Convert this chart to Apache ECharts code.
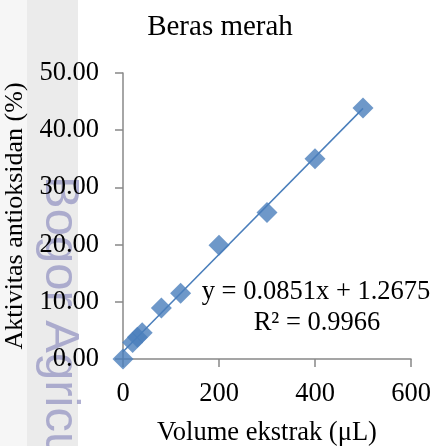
<!DOCTYPE html>
<html>
<head>
<meta charset="utf-8">
<script src="https://cdn.jsdelivr.net/npm/echarts@6/dist/echarts.min.js"></script>
<style>
html,body{margin:0;padding:0;background:#fff;}
#c{width:431px;height:446px;}
</style>
</head>
<body>
<div id="c"></div>
<script>
var titleText = "Beras merah";
var xAxisName = "Volume ekstrak (\u03bcL)";
var yAxisName = "Aktivitas antioksidan (%)";
var volumes = [0, 20, 30, 40, 80, 120, 200, 300, 400, 500];
var activity = [0, 2.9, 3.8, 4.6, 8.9, 11.5, 19.9, 25.6, 35.0, 43.9];
var trendX = [0, 500];
var trendY = [1.2675, 43.8175];
var equationLines = ["y = 0.0851x + 1.2675", "R\u00b2 = 0.9966"];
var watermark = "Bogor Agricultural University";

var serif = "'Liberation Serif','Times New Roman',serif";
var blue = "#4a7ebb";
var axisGray = "#888888";

var points = volumes.map(function(v, i){ return [v, activity[i]]; });
var trend = trendX.map(function(v, i){ return [v, trendY[i]]; });

var chart = echarts.init(document.getElementById('c'), null, {renderer:'canvas'});
chart.setOption({
  animation: false,
  backgroundColor: '#ffffff',
  title: {
    text: titleText, left: 215, top: 8, textAlign: 'center',
    textStyle: {fontFamily: serif, fontSize: 29, fontWeight: 'normal', color: '#000'}
  },
  grid: {left: 123, right: 20, top: 73, bottom: 87, containLabel: false, outerBoundsMode: 'none'},
  xAxis: {
    type: 'value', min: 0, max: 600, interval: 200,
    name: xAxisName, nameLocation: 'middle', nameGap: 61,
    nameTextStyle: {fontFamily: serif, fontSize: 26.5, color: '#000'},
    axisLine: {show: true, onZero: false, lineStyle: {color: axisGray, width: 1.5}},
    axisTick: {show: true, inside: false, length: 8, lineStyle: {color: axisGray, width: 1.5}},
    axisLabel: {fontFamily: serif, fontSize: 26.5, color: '#000', margin: 22},
    splitLine: {show: false}
  },
  yAxis: {
    type: 'value', min: 0, max: 50, interval: 10,
    name: yAxisName, nameLocation: 'middle', nameGap: 91,
    nameTextStyle: {fontFamily: serif, fontSize: 26, color: '#000'},
    axisLine: {show: true, onZero: false, lineStyle: {color: axisGray, width: 1.5}},
    axisTick: {show: true, inside: false, length: 8, lineStyle: {color: axisGray, width: 1.5}},
    axisLabel: {fontFamily: serif, fontSize: 26.5, color: '#000', margin: 24,
      formatter: function(v){ return v.toFixed(2); }},
    splitLine: {show: false}
  },
  graphic: [
    {type: 'rect', shape: {x: 0, y: 0, width: 27, height: 446}, style: {fill: '#f6f6f6'}, z: -10},
    {type: 'rect', shape: {x: 27, y: 0, width: 51, height: 446}, style: {fill: '#ebebeb'}, z: -10},
    {type: 'text', x: 60, y: 176, rotation: -Math.PI/2, z: -5,
      style: {text: watermark, fontFamily: "'Liberation Sans',Arial,sans-serif", fontSize: 49,
        fill: 'rgba(150,150,195,0.75)', textAlign: 'left', textVerticalAlign: 'middle'}},
    {type: 'text', x: 316, y: 292, z: 10,
      style: {text: equationLines[0], fontFamily: serif, fontSize: 26.5, fill: '#000',
        textAlign: 'center', textVerticalAlign: 'middle'}},
    {type: 'text', x: 317, y: 323, z: 10,
      style: {text: equationLines[1], fontFamily: serif, fontSize: 26.5, fill: '#000',
        textAlign: 'center', textVerticalAlign: 'middle'}}
  ],
  series: [
    {type: 'line', data: trend, showSymbol: false, symbol: 'none',
      lineStyle: {color: blue, width: 1.5}, z: 2, silent: true},
    {type: 'scatter', data: points, symbol: 'diamond', symbolSize: 21,
      itemStyle: {color: blue}, z: 3}
  ]
});
</script>
</body>
</html>
